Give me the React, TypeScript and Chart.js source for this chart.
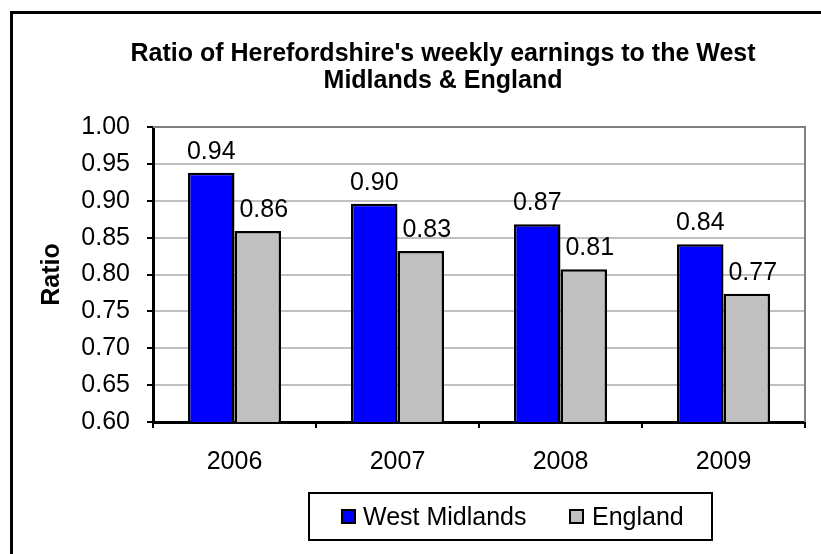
import React, { useEffect, useRef } from "react";
import { Chart, registerables } from "chart.js";

Chart.register(...registerables);

const categories = ["2006", "2007", "2008", "2009"];
const westMidlands = [0.938, 0.896, 0.868, 0.841];
const england = [0.859, 0.832, 0.807, 0.774];
const seriesNames = ["West Midlands", "England"];
const seriesColors = ["#0000FF", "#C0C0C0"];
const titleLines = ["Ratio of Herefordshire's weekly earnings to the West", "Midlands & England"];
const yAxisTitle = "Ratio";
const yMin = 0.6;
const yMax = 1.0;
const yStep = 0.05;

const FAMILY = "'Liberation Sans', Arial, sans-serif";
const FS = 25;

const decorPlugin = {
  id: "decor",
  beforeDraw(chart: any) {
    const ctx = chart.ctx;
    ctx.save();
    ctx.fillStyle = "#fff";
    ctx.fillRect(0, 0, chart.width, chart.height);
    // outer chart border (cropped on right and bottom)
    ctx.strokeStyle = "#000";
    ctx.lineWidth = 3;
    ctx.beginPath();
    ctx.moveTo(11.5, chart.height);
    ctx.lineTo(11.5, 12.5);
    ctx.lineTo(chart.width, 12.5);
    ctx.stroke();
    // title
    ctx.fillStyle = "#000";
    ctx.font = `bold ${FS}px ${FAMILY}`;
    ctx.textAlign = "center";
    ctx.textBaseline = "alphabetic";
    ctx.fillText(titleLines[0], 443, 61);
    ctx.fillText(titleLines[1], 443, 88);
    ctx.restore();
  },
  afterDatasetsDraw(chart: any) {
    const ctx = chart.ctx;
    const a = chart.chartArea;
    ctx.save();
    // gray plot border top/right
    ctx.strokeStyle = "#808080";
    ctx.lineWidth = 2;
    ctx.beginPath();
    ctx.moveTo(a.left, a.top);
    ctx.lineTo(a.right, a.top);
    ctx.lineTo(a.right, a.bottom);
    ctx.stroke();
    // data labels
    ctx.fillStyle = "#000";
    ctx.font = `${FS}px ${FAMILY}`;
    ctx.textAlign = "center";
    ctx.textBaseline = "alphabetic";
    chart.data.datasets.forEach((ds: any, di: number) => {
      const meta = chart.getDatasetMeta(di);
      meta.data.forEach((el: any, i: number) => {
        const v = ds.data[i] as number;
        ctx.fillText(v.toFixed(2), el.x + (di === 1 ? 6 : 0), el.y - 14);
      });
    });
    ctx.restore();
  },
  afterDraw(chart: any) {
    const ctx = chart.ctx;
    ctx.save();
    // legend box
    ctx.strokeStyle = "#000";
    ctx.lineWidth = 2;
    ctx.strokeRect(309, 493, 403, 47);
    const items = [
      { x: 342, tx: 363 },
      { x: 570, tx: 592 },
    ];
    ctx.font = `${FS}px ${FAMILY}`;
    ctx.textAlign = "left";
    ctx.textBaseline = "alphabetic";
    chart.data.datasets.forEach((ds: any, di: number) => {
      const it = items[di];
      ctx.fillStyle = ds.backgroundColor;
      ctx.fillRect(it.x, 510, 13, 13);
      ctx.strokeStyle = "#000";
      ctx.lineWidth = 2;
      ctx.strokeRect(it.x, 510, 13, 13);
      ctx.fillStyle = "#000";
      ctx.fillText(ds.label, it.tx, 525);
    });
    ctx.restore();
  },
};

export default function App() {
  const ref = useRef<HTMLCanvasElement>(null);
  useEffect(() => {
    if (!ref.current) return;
    const chart = new Chart(ref.current, {
      type: "bar",
      data: {
        labels: categories,
        datasets: [
          {
            label: seriesNames[0],
            data: westMidlands,
            backgroundColor: seriesColors[0],
            borderColor: "#000",
            borderWidth: 2.5,
            categoryPercentage: 0.571,
            barPercentage: 1,
          },
          {
            label: seriesNames[1],
            data: england,
            backgroundColor: seriesColors[1],
            borderColor: "#000",
            borderWidth: 2.5,
            categoryPercentage: 0.571,
            barPercentage: 1,
          },
        ],
      },
      options: {
        animation: false,
        responsive: false,
        events: [],
        layout: { padding: { top: 127, right: 16, left: 0, bottom: 0 } },
        plugins: {
          legend: { display: false },
          title: { display: false },
          tooltip: { enabled: false },
        },
        scales: {
          x: {
            afterFit(scale: any) {
              scale.height = 132;
            },
            grid: {
              display: true,
              drawOnChartArea: false,
              drawTicks: true,
              tickLength: 6,
              color: "#000",
              lineWidth: 2,
              offset: true,
            },
            border: { display: true, color: "#000", width: 3 },
            ticks: {
              color: "#000",
              font: { family: FAMILY, size: FS },
              padding: 19,
            },
          },
          y: {
            min: yMin,
            max: yMax,
            afterFit(scale: any) {
              scale.width = 153;
            },
            grid: {
              color: "#C0C0C0",
              lineWidth: 2,
              tickColor: "#000",
              tickLength: 6,
              drawTicks: true,
            },
            border: { display: true, color: "#000", width: 3 },
            ticks: {
              stepSize: yStep,
              color: "#000",
              font: { family: FAMILY, size: FS },
              padding: 17,
              callback: (v: any) => Number(v).toFixed(2),
            },
            title: {
              display: true,
              text: yAxisTitle,
              color: "#000",
              font: { family: FAMILY, size: FS, weight: "bold" },
              padding: { top: 37, bottom: 0 },
            },
          },
        },
      },
      plugins: [decorPlugin],
    });
    return () => chart.destroy();
  }, []);
  return (
    <div style={{ position: "fixed", left: 0, top: 0, width: 821, height: 554, background: "#fff" }}>
      <canvas ref={ref} width={821} height={554} style={{ width: 821, height: 554, display: "block" }} />
    </div>
  );
}
